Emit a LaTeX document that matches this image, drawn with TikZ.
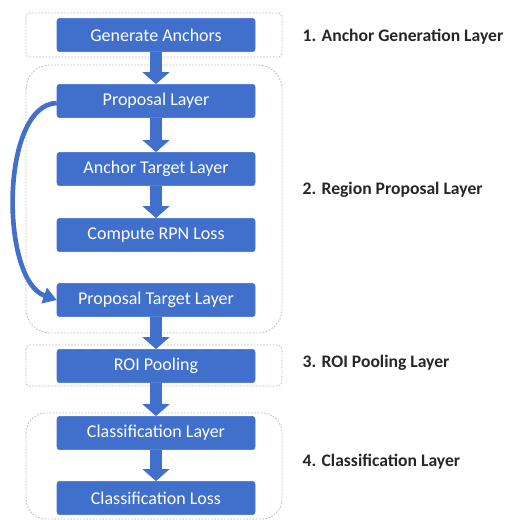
\documentclass[tikz,border=0pt]{standalone}
\usepackage{fontspec}
\setmainfont{Carlito}
\usetikzlibrary{arrows.meta}
\definecolor{boxblue}{HTML}{4070CC}
\definecolor{labgray}{HTML}{262626}
\tikzset{
  layerbox/.style={draw=boxblue, fill=boxblue, rounded corners=2pt, text=white,
    minimum width=148.5pt, minimum height=25pt, font=\fontsize{13.5}{15}\selectfont},
  groupbox/.style={draw=gray!55, line width=0.6pt, dash pattern=on 1.2pt off 1.2pt},
  grouplabel/.style={anchor=west, text=labgray, font=\fontsize{13.2}{15}\selectfont\bfseries},
  flow/.style={draw=boxblue, line width=9pt, -{Triangle[width=20pt, length=9pt]}},
  loopflow/.style={draw=boxblue, line width=3.5pt, -{Triangle[width=12pt, length=10pt]}}
}
\begin{document}
\begin{tikzpicture}[x=0.75pt, y=-0.75pt]
                \useasboundingbox (0,0) rectangle (510,520);
                % dashed layer groups
                \draw[groupbox, rounded corners=3pt] (26,13) rectangle (282,57);
                \draw[groupbox, rounded corners=18pt] (26,65) rectangle (282,333);
                \draw[groupbox, rounded corners=3pt] (26,345) rectangle (282,386);
                \draw[groupbox, rounded corners=15pt] (26,413) rectangle (282,519);
                % layer boxes
                \node[layerbox] (gen) at (156,35) {Generate Anchors};
                \node[layerbox] (prop) at (156,101) {Proposal Layer};
                \node[layerbox] (anct) at (156,169) {Anchor Target Layer};
                \node[layerbox] (rpnl) at (156,235) {Compute RPN Loss};
                \node[layerbox] (ptl) at (156,300) {Proposal Target Layer};
                \node[layerbox] (roi) at (156,366) {ROI Pooling};
                \node[layerbox] (cls) at (156,433) {Classification Layer};
                \node[layerbox] (clsl) at (156,498) {Classification Loss};
                % arrows
                \draw[flow] (gen) -- (prop);
                \draw[flow] (prop) -- (anct);
                \draw[flow] (anct) -- (rpnl);
                \draw[flow] (ptl) -- (roi);
                \draw[flow] (roi) -- (cls);
                \draw[flow] (cls) -- (clsl);
                \draw[loopflow] ([yshift=-1.5pt]prop.west) .. controls (0,105) and (0,280) .. (ptl.west);
                % layer labels
                \node[grouplabel] (lab1) at (298,37) {1. Anchor Generation Layer};
                \node[grouplabel] (lab2) at (298,190) {2. Region Proposal Layer};
                \node[grouplabel] (lab3) at (298,363) {3. ROI Pooling Layer};
                \node[grouplabel] (lab4) at (298,462) {4. Classification Layer};
\end{tikzpicture}
\end{document}
